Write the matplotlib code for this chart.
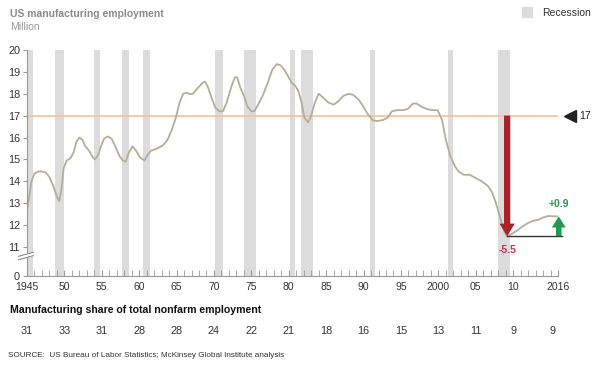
import numpy as np
import matplotlib
matplotlib.use("Agg")
import matplotlib.pyplot as plt

plt.rcParams['font.family'] = ['Liberation Sans', 'DejaVu Sans']

# US manufacturing employment, million
years = [1945.0, 1945.3, 1945.6, 1946.0, 1946.5, 1947.0, 1947.5, 1948.0, 1948.5, 1949.0,
         1949.3, 1949.6, 1949.9, 1950.3, 1950.8, 1951.2, 1951.6, 1952.0, 1952.4, 1952.8,
         1953.3, 1953.8, 1954.1, 1954.5, 1954.9, 1955.3, 1955.8, 1956.3, 1956.8, 1957.3,
         1957.8, 1958.2, 1958.6, 1959.1, 1959.6, 1960.1, 1960.7, 1961.1, 1961.6, 1962.4,
         1963.2, 1963.8, 1964.3, 1964.9, 1965.4, 1965.9, 1966.3, 1966.8, 1967.2, 1967.8,
         1968.5, 1968.8, 1969.2, 1969.7, 1970.2, 1970.7, 1971.2, 1971.7, 1972.3, 1972.8,
         1973.1, 1973.5, 1974.0, 1974.5, 1975.0, 1975.4, 1975.9, 1976.5, 1977.2, 1977.8,
         1978.4, 1978.9, 1979.4, 1979.9, 1980.4, 1980.9, 1981.3, 1981.7, 1982.1, 1982.6,
         1983.0, 1983.5, 1984.0, 1984.5, 1985.3, 1986.0, 1986.6, 1987.3, 1988.0, 1988.6,
         1989.3, 1990.0, 1990.6, 1991.2, 1991.8, 1992.6, 1993.2, 1993.8, 1994.5, 1995.3,
         1995.9, 1996.6, 1997.1, 1997.8, 1998.5, 1999.2, 1999.9, 2000.5, 2001.0, 2001.6,
         2002.2, 2002.7, 2003.4, 2004.2, 2005.0, 2005.8, 2006.6, 2007.2, 2007.8, 2008.3,
         2008.8, 2009.2, 2009.8, 2010.5, 2011.3, 2012.0, 2012.7, 2013.4, 2014.0, 2014.7,
         2015.5, 2016.0]
employment = [12.7, 13.3, 14.0, 14.35, 14.45, 14.45, 14.4, 14.2, 13.8, 13.3,
              13.1, 13.6, 14.6, 14.95, 15.05, 15.3, 15.8, 16.0, 15.9, 15.6,
              15.4, 15.1, 15.0, 15.2, 15.6, 15.95, 16.05, 15.95, 15.6, 15.2,
              14.95, 14.9, 15.3, 15.6, 15.4, 15.1, 14.95, 15.2, 15.4, 15.5,
              15.65, 15.9, 16.3, 16.9, 17.6, 18.0, 18.05, 17.98, 18.0, 18.25,
              18.5, 18.55, 18.3, 17.8, 17.35, 17.2, 17.2, 17.6, 18.3, 18.75,
              18.75, 18.3, 17.9, 17.4, 17.2, 17.2, 17.5, 17.9, 18.5, 19.1,
              19.35, 19.3, 19.1, 18.8, 18.5, 18.35, 18.1, 17.6, 16.9, 16.7,
              17.0, 17.6, 18.0, 17.85, 17.6, 17.5, 17.65, 17.9, 18.0, 17.95,
              17.75, 17.4, 17.05, 16.8, 16.75, 16.8, 16.9, 17.2, 17.25, 17.25,
              17.3, 17.55, 17.55, 17.4, 17.3, 17.25, 17.25, 16.8, 15.9, 15.15,
              14.7, 14.45, 14.3, 14.3, 14.15, 14.0, 13.8, 13.5, 12.9, 12.3,
              11.7, 11.5, 11.6, 11.75, 11.95, 12.1, 12.2, 12.25, 12.35, 12.42,
              12.4, 12.4]

rec_start = [1945.0, 1948.8, 1953.9, 1957.7, 1960.5, 1970.1, 1974.0, 1980.2, 1981.7, 1990.8, 2001.3, 2008.0]
rec_end = [1945.8, 1950.0, 1954.7, 1958.6, 1961.5, 1971.2, 1975.6, 1980.9, 1983.2, 1991.5, 2002.0, 2009.6]

share_years = [1945, 1950, 1955, 1960, 1965, 1970, 1975, 1980, 1985, 1990, 1995, 2000, 2005, 2010, 2015.2]
share = [31, 33, 31, 28, 28, 24, 22, 21, 18, 16, 15, 13, 11, 9, 9]

ref_level = 17
trough_year, trough = 2009.2, 11.5
recent_year, recent = 2016.1, 12.4

tick_years = [1945, 1950, 1955, 1960, 1965, 1970, 1975, 1980, 1985, 1990, 1995, 2000, 2005, 2010, 2016]
tick_labels = ['1945', '50', '55', '60', '65', '70', '75', '80', '85', '90', '95', '2000', '05', '10', '2016']


# broken y axis: 0..11 squeezed into a small band
def fwd(y):
    y = np.asarray(y, float)
    return np.where(y >= 11, y, 9.68 + y * (1.32 / 11))


def inv(d):
    d = np.asarray(d, float)
    return np.where(d >= 11, d, (d - 9.68) * 11 / 1.32)


fig = plt.figure(figsize=(6, 3.67), dpi=100)
ax = fig.add_axes([0.045, 0.248, 0.885, 0.616])
ax.set_yscale('function', functions=(fwd, inv))

for s, e in zip(rec_start, rec_end):
    ax.axvspan(s, e, color='#dcdcdc', lw=0, zorder=0)

ax.axhline(ref_level, color='#f2c29b', lw=1.2, zorder=1)
ax.plot(years, employment, color='#b2ae98', lw=1.3, zorder=2)

# drop and recovery annotations
ax.annotate('', xy=(trough_year, trough), xytext=(trough_year, ref_level),
            arrowprops=dict(arrowstyle='simple,head_width=1.1,head_length=0.9,tail_width=0.45',
                            color='#a8222a', lw=0, shrinkA=0, shrinkB=0), zorder=4)
ax.plot([trough_year, 2016.6], [trough, trough], color='#333333', lw=1, zorder=3, clip_on=False)
ax.annotate('', xy=(recent_year, recent), xytext=(recent_year, trough),
            arrowprops=dict(arrowstyle='simple,head_width=1.0,head_length=0.8,tail_width=0.4',
                            color='#1f9a4c', lw=0, shrinkA=0, shrinkB=0),
            zorder=4, annotation_clip=False)
ax.text(trough_year, 9.8, '-5.5', color='#c8324e', fontsize=7.5, fontweight='bold',
        ha='center', va='center')
ax.text(recent_year, 12.95, '+0.9', color='#1f9a4c', fontsize=7.5, fontweight='bold',
        ha='center', va='center')

ax.plot([2017.6], [ref_level], marker='<', color='#222222', markersize=8, clip_on=False)
ax.text(2018.8, ref_level, str(ref_level), fontsize=7.5, color='#222222', va='center', ha='left')

ax.set_xlim(1945, 2016)
ax.set_ylim(0, 20)
ax.set_yticks([0, 11, 12, 13, 14, 15, 16, 17, 18, 19, 20])
ax.set_xticks(tick_years)
ax.set_xticklabels(tick_labels)
ax.set_xticks(range(1945, 2017), minor=True)
ax.tick_params(axis='x', which='both', direction='in', length=4, color='#999999',
               labelsize=7.5, labelcolor='#333333', pad=4)
ax.tick_params(axis='y', which='both', direction='out', length=3, color='#999999',
               labelsize=7.8, labelcolor='#333333', pad=2)

for side in ['top', 'right']:
    ax.spines[side].set_visible(False)
for side in ['left', 'bottom']:
    ax.spines[side].set_color('#999999')
    ax.spines[side].set_linewidth(0.8)

# axis break marks
ax.fill([-0.016, 0.012, 0.012, -0.016], [0.072, 0.090, 0.105, 0.087], color='white',
        transform=ax.transAxes, clip_on=False, zorder=5)
ax.plot([-0.016, 0.012], [0.072, 0.090], color='#888888', lw=0.8, transform=ax.transAxes, clip_on=False, zorder=6)
ax.plot([-0.016, 0.012], [0.087, 0.105], color='#888888', lw=0.8, transform=ax.transAxes, clip_on=False, zorder=6)

# header
fig.text(0.017, 0.963, 'US manufacturing employment', fontsize=7.5, fontweight='bold',
         color='#8a8a8a', va='center')
fig.text(0.017, 0.927, 'Million', fontsize=7.5, color='#999999', va='center')
fig.patches.append(plt.Rectangle((0.870, 0.953), 0.017, 0.027, color='#dcdcdc',
                                 transform=fig.transFigure, figure=fig))
fig.text(0.903, 0.965, 'Recession', fontsize=7.5, color='#333333', va='center')

# share row
fig.text(0.017, 0.155, 'Manufacturing share of total nonfarm employment', fontsize=7.6,
         fontweight='bold', color='#111111', va='center')
for yr, v in zip(share_years, share):
    ax.text(yr, -0.243, str(v), transform=ax.get_xaxis_transform(), fontsize=7.8,
            color='#333333', ha='center', va='center', clip_on=False)

fig.text(0.013, 0.03, 'SOURCE:  US Bureau of Labor Statistics; McKinsey Global Institute analysis',
         fontsize=5.9, color='#333333', va='center')

fig.savefig('out.png', dpi=100)
